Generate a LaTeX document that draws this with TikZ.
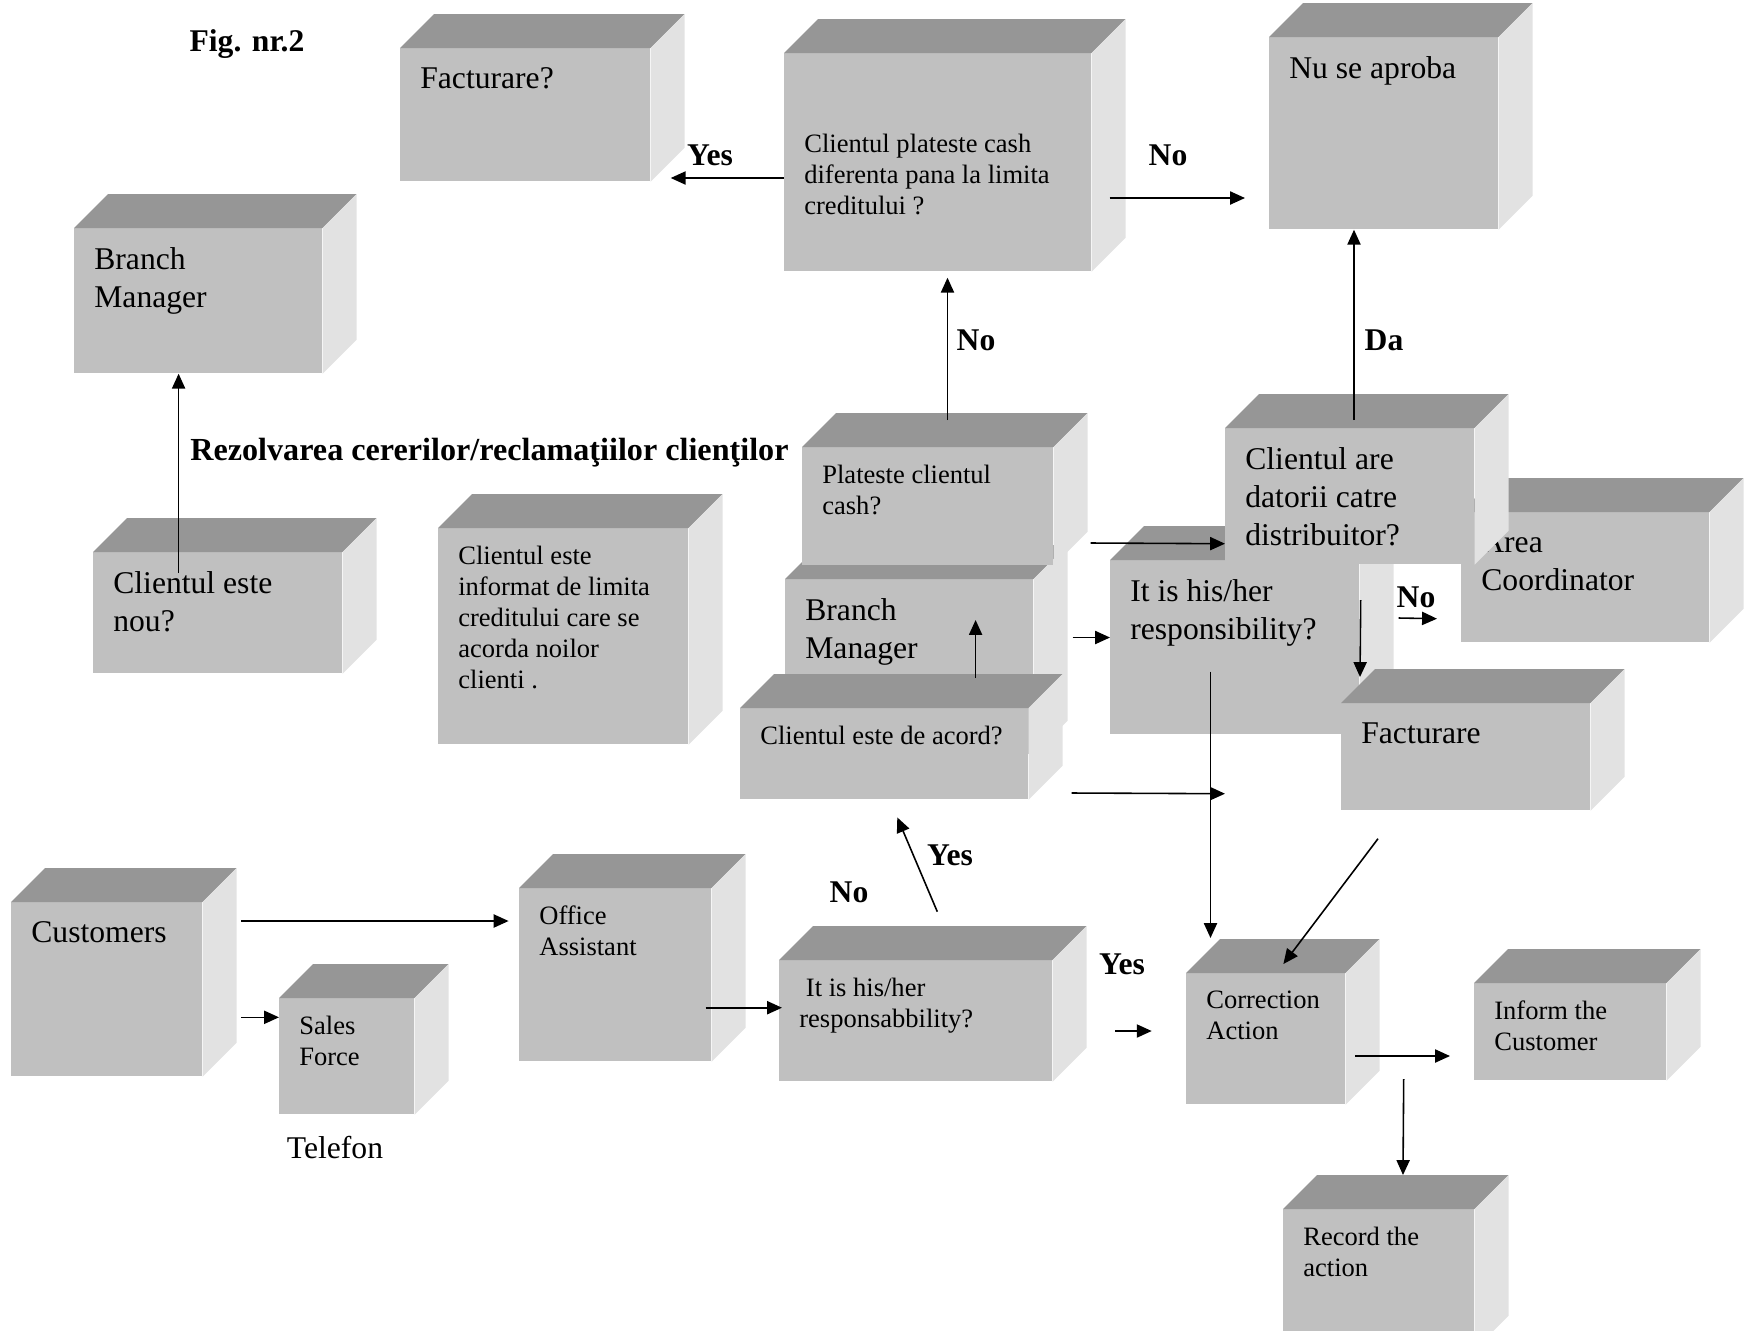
\documentclass[tikz,border=0pt]{standalone}
\usepackage{fontspec}
\setmainfont{Liberation Serif}
\usetikzlibrary{arrows.meta,calc}

\definecolor{frontgray}{HTML}{C0C0C0}
\definecolor{topgray}{HTML}{969696}
\definecolor{sidegray}{HTML}{E2E2E2}

\tikzset{
  front/.style={fill=frontgray, inner sep=0, anchor=north west},
  topface/.style={fill=topgray},
  sideface/.style={fill=sidegray},
  bigtxt/.style={font=\fontsize{18}{21.5}\selectfont, anchor=north west, align=left, inner sep=0},
  smalltxt/.style={font=\fontsize{15.1}{17.6}\selectfont, anchor=north west, align=left, inner sep=0},
  lbl/.style={font=\bfseries\fontsize{18}{21}\selectfont, inner sep=0},
  arr/.style={-{Triangle[length=8.5pt,width=7.5pt]}, line width=0.9pt},
}

% box with top and side face: [text top] name x y w h textstyle text
\newcommand\cube[8][19.3]{%
  \node[front, minimum width=#5*0.02cm, minimum height=#6*0.02cm] (#2) at (#3,#4) {};
  \fill[topface] (#2.north west) -- ++(34,-34) -- ($(#2.north east)+(34,-34)$) -- (#2.north east) -- cycle;
  \fill[sideface] (#2.north east) -- ++(34,-34) -- ($(#2.south east)+(34,-34)$) -- (#2.south east) -- cycle;
  \node[#7] (#2-txt) at ($(#2.north west)+(20,#1)$) {#8};
}

\begin{document}
\begin{tikzpicture}[x=0.02cm, y=-0.02cm]

\useasboundingbox (0,0) rectangle (1749,1330);
\clip (0,0) rectangle (1749,1330);

% boxes
\cube{fact1}{400}{48}{250}{133}{bigtxt}{Facturare?}
\cube{bm1}{74}{228}{248}{145}{bigtxt}{Branch\\Manager}
\cube[80.6]{cash}{784}{53}{307}{218}{smalltxt}{Clientul plateste cash\\diferenta pana la limita\\creditului ?}
\cube{nuap}{1269}{37}{229}{192}{bigtxt}{Nu se aproba}
\cube{nou}{93}{552}{249}{121}{bigtxt}{Clientul este\\nou?}
\cube[17.6]{info}{438}{528}{250}{216}{smalltxt}{Clientul este\\informat de limita\\creditului care se\\acorda noilor\\clienti .}
\cube{bm2}{785}{579}{248}{175}{bigtxt}{Branch\\Manager}
\cube[17.6]{plat}{802}{447}{251}{118}{smalltxt}{Plateste clientul\\cash?}
\cube[17.6]{acord}{740}{708}{288}{91}{smalltxt}{Clientul este de acord?}
\cube{area}{1461}{512}{248}{130}{bigtxt}{Area\\Coordinator}
\cube{resp}{1110}{560}{249}{174}{bigtxt}{It is his/her\\responsibility?}
\cube{dat}{1225}{428}{249}{136}{bigtxt}{Clientul are\\datorii catre\\distribuitor?}
\cube{fact2}{1341}{703}{249}{107}{bigtxt}{Facturare}
\cube{cust}{11}{902}{191}{174}{bigtxt}{Customers}
\cube[17.6]{sales}{279}{998}{135}{116}{smalltxt}{Sales\\Force}
\cube[17.6]{office}{519}{888}{192}{173}{smalltxt}{Office\\Assistant}
\cube[17.6]{resp2}{779}{960}{273}{121}{smalltxt}{\ It is his/her\\responsabbility?}
\cube[17.6]{corr}{1186}{973}{159}{131}{smalltxt}{Correction\\Action}
\cube[17.6]{inform}{1474}{983}{192}{97}{smalltxt}{Inform the\\Customer}
\cube[17.6]{record}{1283}{1209}{191}{140}{smalltxt}{Record the\\action}

% connectors
\draw[arr] ($(cash.north west)+(0,125)$) -- ($(fact1.north east)+(20,130)$);
\draw[arr] ($(cash.north east)+(18,145)$) -- ($(nuap.north west)+(-24,161)$);
\draw[arr] ($(plat.north west)+(145.5,-27)$) -- ($(cash.south west)+(163.5,6)$);
\draw[arr] ($(dat.north west)+(129,-8)$) -- ($(nuap.south west)+(85,0)$);
\draw[arr] ($(nou.north west)+(85.6,21)$) -- ($(bm1.south west)+(104.6,0)$);
\draw[arr] ($(plat.north east)+(37,96)$) -- ($(dat.south west)+(0,-21)$);
\draw[arr] ($(bm2.north east)+(39,58.5)$) -- ($(resp.north west)+(0,77.5)$);
\draw[arr] ($(acord.north east)+(43,85)$) -- ($(resp.south west)+(115,59)$);
\draw[arr] ($(acord.north west)+(235.6,-30)$) -- ($(bm2.north west)+(190.6,41)$);
\draw[arr] ($(resp.north east)+(1,40)$) -- ($(fact2.north west)+(19,-26)$);
\draw[arr] ($(resp.north east)+(39,58)$) -- ($(area.south west)+(-24,-24)$);
\draw[arr] ($(resp.south west)+(100.5,-63)$) -- ($(corr.north west)+(24.5,-35)$);
\draw[arr] ($(fact2.south west)+(37,28)$) -- ($(corr.north west)+(97.4,-9)$);
\draw[arr] ($(cust.north east)+(38.6,19)$) -- ($(office.north west)+(-10.4,33)$);
\draw[arr] ($(cust.north east)+(38.6,115.3)$) -- ($(sales.north west)+(0,19.3)$);
\draw[arr] ($(office.north east)+(-6,119.7)$) -- ($(resp2.north west)+(3,47.7)$);
\draw[arr] ($(resp2.north west)+(158.3,-48.3)$) -- ($(acord.south west)+(157.3,17.7)$);
\draw[arr] ($(resp2.north east)+(62.5,71)$) -- ($(corr.north west)+(-34.3,58)$);
\draw[arr] ($(corr.north east)+(9.6,83)$) -- ($(inform.north west)+(-24,73)$);
\draw[arr] ($(corr.north east)+(58,106)$) -- ($(record.north west)+(120,-34)$);

% labels
\node[lbl] (fig) at (247,44) {Fig. nr.2};
\node[lbl, anchor=base west, font=\bfseries\fontsize{18.3}{21}\selectfont] (title) at (190,460) {Rezolvarea cererilor/reclamaţiilor clienţilor};
\node[lbl] (yes1) at (710,155) {Yes};
\node[lbl] (no1) at (1168,155) {No};
\node[lbl] (no2) at (976,340) {No};
\node[lbl] (da) at (1384,340) {Da};
\node[lbl] (no3) at (1416,597) {No};
\node[lbl] (no4) at (849,892) {No};
\node[lbl] (yes2) at (950,855) {Yes};
\node[lbl] (yes3) at (1122,964) {Yes};
\node[font=\fontsize{18}{21}\selectfont, inner sep=0] (tel) at (335,1148) {Telefon};

\end{tikzpicture}
\end{document}
